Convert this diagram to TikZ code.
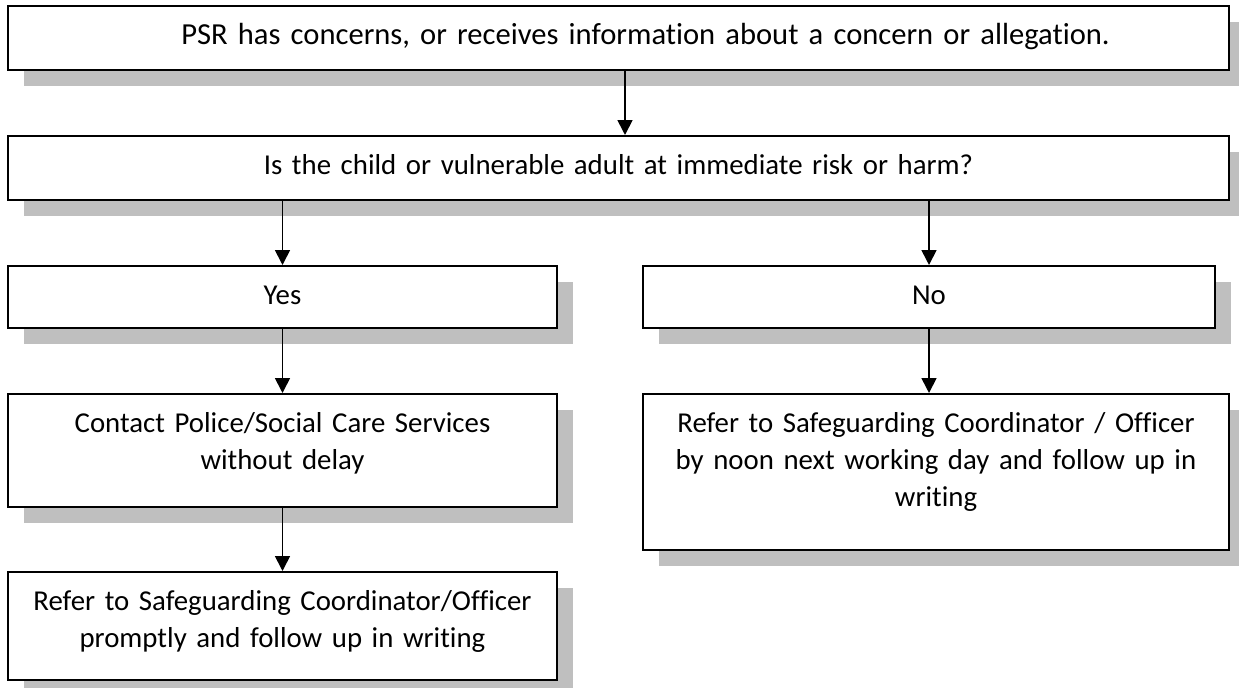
\documentclass[tikz,border=0pt]{standalone}
\usepackage{fontspec}
\setmainfont{Carlito}[Ligatures=CommonOff]
\usetikzlibrary{arrows.meta,shadows}
\begin{document}
\begin{tikzpicture}[x=0.02cm, y=-0.02cm, >={Triangle[width=8.5pt,length=8.5pt]},
    font=\fontsize{16.4}{21}\selectfont, line join=miter,
    box/.style={draw, line width=1pt, fill=white, anchor=north, inner xsep=0pt, inner ysep=0pt,
      align=center, text height=0.78cm,
      drop shadow={shadow xshift=0.32cm, shadow yshift=-0.32cm, fill=black!25, opacity=1}},
    arr/.style={->, line width=1pt}]
  \useasboundingbox (0,0) rectangle (1239,688);
  % top of the chart
  \node[box, text width=24.42cm, text depth=0.5cm, font=\fontsize{17.4}{21}\selectfont] (concern) at (618.5,5)
    {\hspace*{1.08cm}PSR has concerns, or receives information about a concern or allegation.};
  \node[box, text width=24.42cm, text depth=0.5cm] (risk) at (618.5,135)
    {Is the child or vulnerable adult at immediate risk or harm?};
  % the two answers
  \node[box, text width=10.98cm, text depth=0.46cm] (yes) at (282.5,265) {Yes};
  \node[box, text width=11.44cm, text depth=0.46cm] (no) at (929,265) {No};
  \node[box, text width=10.98cm, text depth=1.48cm] (contact) at (282.5,393)
    {Contact Police/Social Care Services\\ without delay};
  \node[box, text width=11.72cm, text depth=2.34cm] (referno) at (936,393)
    {Refer to Safeguarding Coordinator / Officer\\ by noon next working day and follow up in\\ writing};
  \node[box, text width=10.98cm, text depth=1.38cm] (referyes) at (282.5,571)
    {Refer to Safeguarding Coordinator/Officer\\ promptly and follow up in writing};
  % arrows
  \draw[arr] ([xshift=0.13cm]concern.south) -- ([xshift=0.13cm]risk.north);
  \draw[arr] (risk.south -| yes.north) -- (yes.north);
  \draw[arr] (risk.south -| no.north) -- (no.north);
  \draw[arr] (yes.south) -- (contact.north);
  \draw[arr] (contact.south) -- (referyes.north);
  \draw[arr] (no.south) -- (no.south |- referno.north);
\end{tikzpicture}
\end{document}
